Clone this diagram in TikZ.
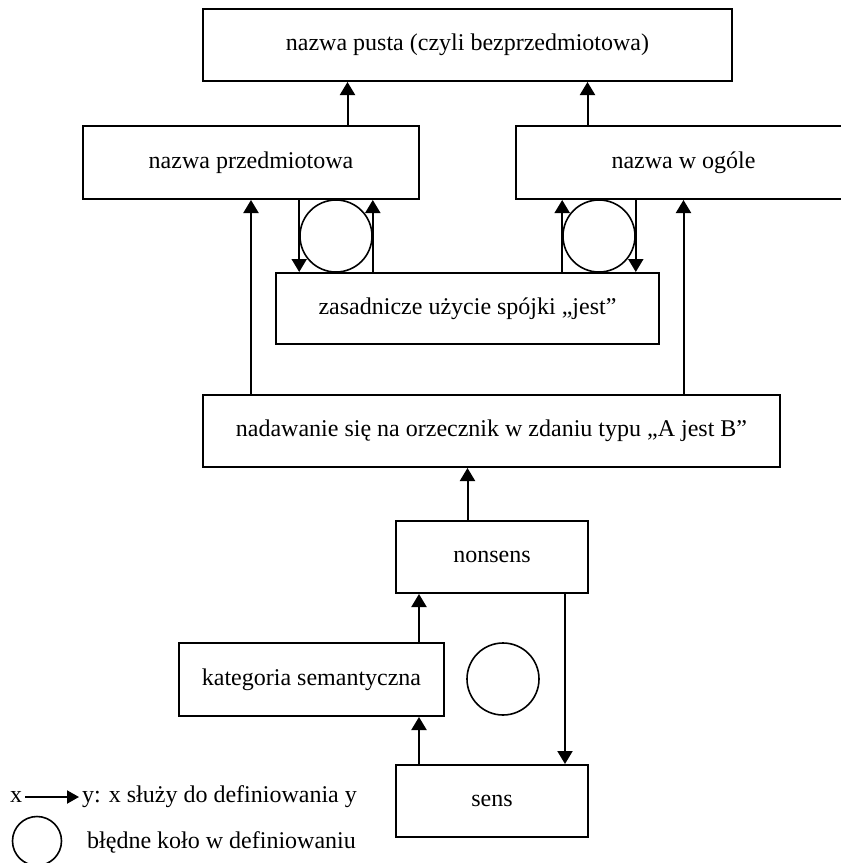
\documentclass[tikz,border=0pt]{standalone}
\usepackage{fontspec}
\setmainfont{Liberation Serif}
\usetikzlibrary{arrows.meta}
\begin{document}
\begin{tikzpicture}[x=1pt,y=-1pt,
  box/.style={draw,line width=2pt,minimum height=72pt,inner sep=0pt,font=\fontsize{24}{28}\selectfont},
  ring/.style={draw,circle,line width=1.6pt,inner sep=0pt,minimum size=72pt},
  arr/.style={line width=2pt,-{Triangle[width=15pt,length=13pt]}},
  legarr/.style={line width=2pt,-{Triangle[width=13pt,length=12pt]}},
  lbl/.style={font=\fontsize{24}{28}\selectfont,inner sep=3pt}]
\useasboundingbox (0,0) rectangle (841,863);
\clip (0,0) rectangle (841,863);

% boxes
\node[box,minimum width=529pt] (T) at (467.5,45) {nazwa pusta (czyli bezprzedmiotowa)};
\node[box,minimum width=336pt,minimum height=73pt] (P) at (251,162.5) {nazwa przedmiotowa};
\node[box,minimum width=335pt,minimum height=73pt] (O) at (683.5,162.5) {nazwa w ogóle};
\node[box,minimum width=383pt,minimum height=71pt] (Z) at (467.5,308.5) {zasadnicze użycie spójki „jest”};
\node[box,minimum width=577pt] (N) at (491.5,431) {nadawanie się na orzecznik w zdaniu typu „A jest B”};
\node[box,minimum width=192pt] (NS) at (492,557) {nonsens};
\node[box,minimum width=265pt,minimum height=73pt] (K) at (311.5,679.5) {kategoria semantyczna};
\node[box,minimum width=192pt] (S) at (492,801) {sens};

% vicious circles
\node[ring] (C1) at (336,236) {};
\node[ring] (C2) at (599,236) {};
\node[ring] (C3) at (503,679) {};

% connectors
\draw[arr] ([xshift=-120pt]T.south |- P.north) -- ([xshift=-120pt]T.south);
\draw[arr] ([xshift=120pt]T.south |- O.north) -- ([xshift=120pt]T.south);

\draw[arr] (C1.west |- P.south) -- (C1.west |- Z.north);
\draw[arr] (C1.east |- Z.north) -- (C1.east |- P.south);
\draw[arr] (C2.west |- Z.north) -- (C2.west |- O.south);
\draw[arr] (C2.east |- O.south) -- (C2.east |- Z.north);

\draw[arr] (N.north -| P.south) -- (P.south);
\draw[arr] (N.north -| O.south) -- (O.south);

\draw[arr] (NS.north -| T.south) -- (N.south -| T.south);
\draw[arr] ([xshift=24pt]NS.south west |- K.north) -- ([xshift=24pt]NS.south west);
\draw[arr] ([xshift=24pt]S.north west) -- ([xshift=24pt]S.north west |- K.south);
\draw[arr] ([xshift=-24pt]NS.south east) -- ([xshift=-24pt]NS.south east |- S.north);

% legend
\node[lbl] (lx) at (16,797) {x};
\node[lbl,anchor=west] (ly) at (79,797) {y: x służy do definiowania y};
\draw[legarr] (lx.east) -- (ly.west);
\node[draw,circle,line width=1.6pt,inner sep=0pt,minimum size=49pt] (LC) at (37,841) {};
\node[lbl,anchor=west] (lb) at (84,842) {błędne koło w definiowaniu};
\end{tikzpicture}
\end{document}
